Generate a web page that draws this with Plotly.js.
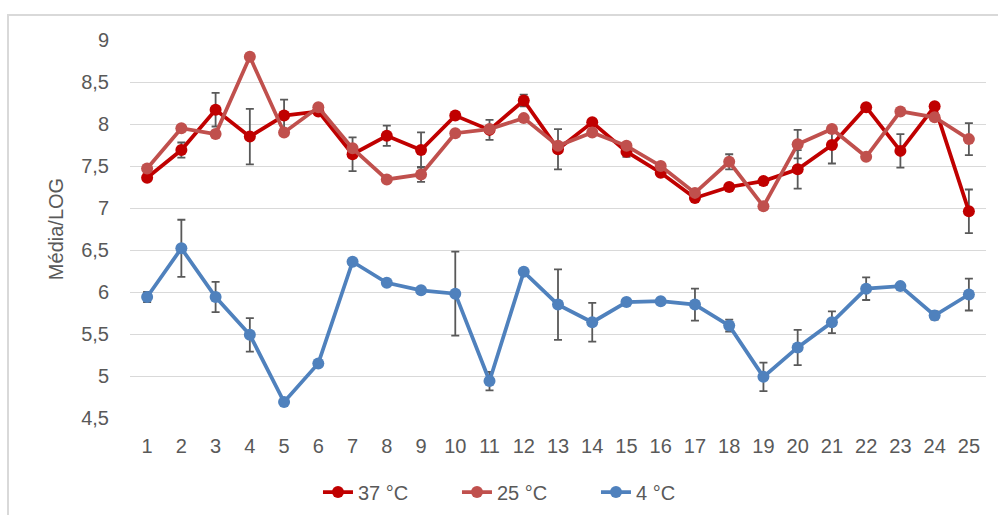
<!DOCTYPE html>
<html>
<head>
<meta charset="utf-8">
<script src="https://cdn.plot.ly/plotly-3.0.1.min.js"></script>
<style>
html, body { margin: 0; padding: 0; overflow: hidden; background: #fff; }
#chart { position: absolute; left: 0; top: 0; width: 998px; height: 515px; }
#frame { position: absolute; left: 7px; top: 14px; width: 1100px; height: 600px;
  border-top: 2px solid #d9d9d9; border-left: 2px solid #d9d9d9; pointer-events: none; }
</style>
</head>
<body>
<div id="chart"></div>
<div id="frame"></div>
<script>
const categories = ["1","2","3","4","5","6","7","8","9","10","11","12","13","14","15","16","17","18","19","20","21","22","23","24","25"];

const t37 = [7.36, 7.69, 8.17, 7.85, 8.10, 8.15, 7.64, 7.86, 7.69, 8.10, 7.93, 8.28, 7.70, 8.02, 7.67, 7.42, 7.12, 7.25, 7.32, 7.46, 7.75, 8.20, 7.68, 8.21, 6.96];
const err37 = [0.02, 0.09, 0.20, 0.33, 0.19, 0.03, 0.20, 0.12, 0.21, 0.03, 0.12, 0.07, 0.24, 0.03, 0.06, 0.03, 0.03, 0.03, 0.04, 0.23, 0.22, 0.03, 0.20, 0.03, 0.26];

const t25 = [7.47, 7.95, 7.88, 8.80, 7.90, 8.20, 7.71, 7.34, 7.40, 7.89, 7.94, 8.07, 7.74, 7.90, 7.74, 7.50, 7.18, 7.55, 7.02, 7.76, 7.94, 7.61, 8.15, 8.08, 7.82];
const err25 = [0.02, 0.02, 0.02, 0.02, 0.02, 0.02, 0.02, 0.03, 0.09, 0.02, 0.02, 0.02, 0.02, 0.02, 0.02, 0.02, 0.02, 0.09, 0.02, 0.17, 0.02, 0.02, 0.02, 0.02, 0.19];

const t4 = [5.94, 6.52, 5.94, 5.49, 4.69, 5.15, 6.36, 6.11, 6.02, 5.98, 4.94, 6.24, 5.85, 5.64, 5.88, 5.89, 5.85, 5.60, 4.99, 5.34, 5.64, 6.04, 6.07, 5.72, 5.97];
const err4 = [0.06, 0.34, 0.18, 0.20, 0.02, 0.02, 0.02, 0.02, 0.02, 0.50, 0.11, 0.02, 0.42, 0.23, 0.02, 0.02, 0.19, 0.07, 0.17, 0.21, 0.13, 0.135, 0.02, 0.05, 0.19];

const seriesNames = ["37 °C", "25 °C", "4 °C"];
const colors = ["#C00000", "#C0504D", "#4F81BD"];

function mk(name, y, err, color) {
  return {
    type: "scatter", mode: "lines+markers", name: name,
    x: categories, y: y,
    line: { color: color, width: 3.75 },
    marker: { color: color, size: 12 },
    error_y: { type: "data", array: err, visible: true, color: "#595959", thickness: 1.8, width: 4 }
  };
}

const data = [
  mk(seriesNames[0], t37, err37, colors[0]),
  mk(seriesNames[1], t25, err25, colors[1]),
  mk(seriesNames[2], t4, err4, colors[2])
];

const font = { family: "Liberation Sans, Arial, sans-serif", size: 20, color: "#595959" };

const layout = {
  width: 998, height: 515,
  margin: { l: 130, r: 12, t: 40, b: 97, autoexpand: false },
  paper_bgcolor: "#ffffff", plot_bgcolor: "#ffffff",
  separators: ",.",
  font: font,
  showlegend: true,
  legend: { orientation: "h", x: 0.2196, xanchor: "left", y: -0.196, yanchor: "middle",
            font: font, traceorder: "normal", entrywidth: 94 },
  xaxis: {
    type: "category", range: [-0.5, 24.5],
    showgrid: false, zeroline: false, showline: false, ticks: "",
    tickfont: font, ticklabelstandoff: 14, fixedrange: true
  },
  yaxis: {
    range: [4.5, 9], dtick: 0.5, tick0: 4.5,
    showgrid: true, gridcolor: "#d9d9d9", gridwidth: 1,
    zeroline: false, showline: false, ticks: "",
    tickfont: font, ticklabelstandoff: 20,
    title: { text: "Média/LOG", font: font, standoff: 12 }
  }
};

Plotly.newPlot("chart", data, layout, { displayModeBar: false, staticPlot: true });
</script>
</body>
</html>
